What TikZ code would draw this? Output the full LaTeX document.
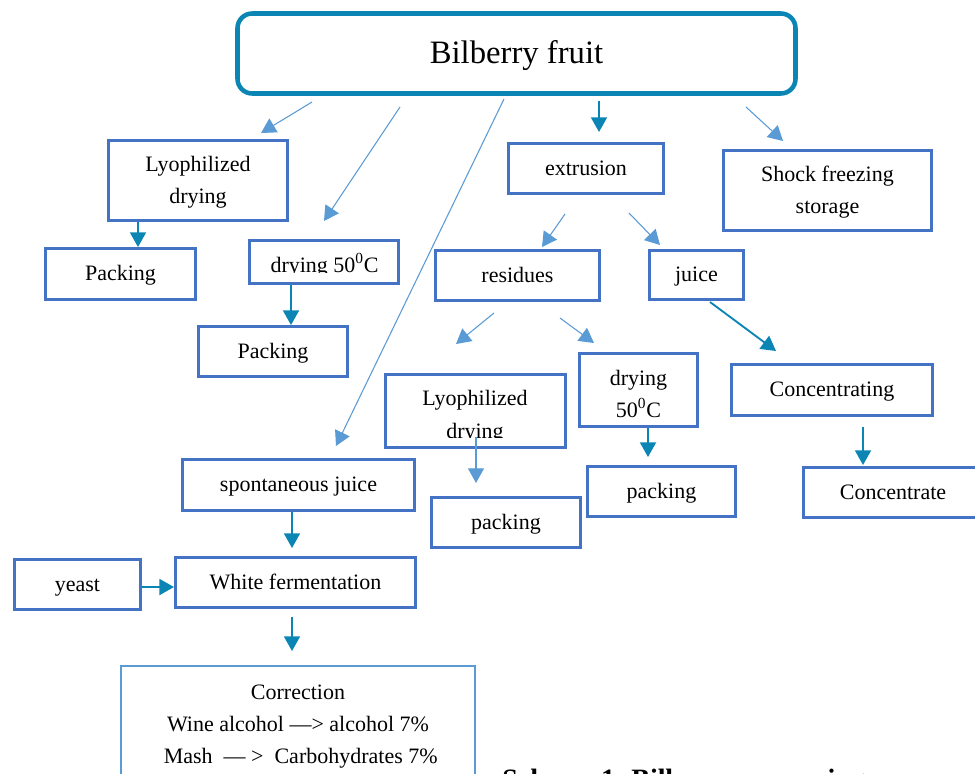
\documentclass[tikz,border=0pt]{standalone}
\usepackage{fontspec}
\setmainfont{Liberation Serif}
\usetikzlibrary{arrows.meta}
\definecolor{boxblue}{HTML}{4472C4}
\definecolor{tealc}{HTML}{0B86B4}
\definecolor{lightblue}{HTML}{5B9BD5}
\newcommand\bodyfont{\fontsize{16.5}{24}\selectfont}
\newcommand\titlefont{\fontsize{24.5}{30}\selectfont}
\newcommand\capfont{\fontsize{21}{25}\selectfont\bfseries}

\begin{document}
\begin{tikzpicture}[x=0.75pt,y=-0.75pt,
  box/.style={draw=boxblue, line width=2.2pt, inner sep=0pt, align=center,
    font=\bodyfont, text height=14pt, text depth=4.1pt},
  % two-line boxes: height measured above the last baseline
  twoline/.style={text height=38pt, text depth=4.1pt},
  sz/.style 2 args={minimum width=#1*0.75pt, minimum height=#2*0.75pt},
  txt/.style={inner sep=0pt, font=\bodyfont},
  lightarrow/.style={draw=lightblue, line width=0.8pt, -{Triangle[length=11pt,width=12pt]}},
  tealarrow/.style={draw=tealc, line width=1.4pt, -{Triangle[length=11pt,width=12pt]}},
]
\useasboundingbox (0,0) rectangle (975,774);
\fill[white] (0,0) rectangle (975,774);

% ---- top node
\node[box, draw=tealc, line width=3.4pt, rounded corners=11pt, sz={558}{80},
  font=\titlefont, text height=20.8pt, text depth=6.1pt] (bil) at (516.5,53.5) {Bilberry fruit};

% ---- left branch
\node[box, twoline, sz={179}{80}] (lyo1) at (198,180.5) {Lyophilized\\drying};
\node[box, sz={150}{51}] (pack1) at (120.5,274) {Packing};
\node[box, sz={149}{43}] (dry1) at (324,262) {};
\begin{scope}
  \clip (246,237) rectangle (402,272.5);
  \node[txt, anchor=base] (dry1t) at (324.5,272) {drying 50\textsuperscript{0}C};
\end{scope}
\node[box, sz={149}{50}] (pack2) at (273,351.5) {Packing};

% ---- extrusion branch
\node[box, sz={155}{50}] (extr) at (586,168.5) {extrusion};
\node[box, twoline, sz={208}{80}] (shock) at (827.5,190.5) {Shock freezing\\storage};
\node[box, sz={164}{50}] (resid) at (517.5,275.5) {residues};
\node[box, sz={94}{49}] (juice) at (696.5,275) {juice};
\node[box, sz={180}{73}] (lyo2) at (475.5,411) {};
\node[txt, anchor=base] (lyo2t) at (475,405.7) {Lyophilized};
\begin{scope}
  \clip (386,380) rectangle (565,437.5);
  \node[txt, anchor=base] (lyo2u) at (475,438.5) {drying};
\end{scope}
\node[box, sz={118}{73}, text height=43.8pt, text depth=3.3pt] (dry2) at (638.5,390) {drying\\50\textsuperscript{0}C};
\node[box, sz={201}{51}] (conc) at (832,390) {Concentrating};
\node[box, sz={149}{50}] (pack3) at (506,522.5) {packing};
\node[box, sz={148}{50}] (pack4) at (661.5,491.5) {packing};
\node[box, sz={179}{50}] (concd) at (893,492.5) {Concentrate};

% ---- juice / fermentation branch
\node[box, sz={232}{51}] (spont) at (298.5,485) {spontaneous juice};
\node[box, sz={126}{50}] (yeast) at (77.5,584.5) {yeast};
\node[box, sz={240}{50}] (wf) at (295.5,582.5) {White fermentation};
\node[box, draw=lightblue, line width=1.6pt, sz={354}{117}, inner ysep=10.75pt,
  text height=62pt, text depth=4.1pt, anchor=north] (corr) at (298,665)
  {Correction\\Wine alcohol —> alcohol 7\%\\\ Mash\ \ — >\ \ Carbohydrates 7\%};

% caption below the scheme
\node[inner sep=0pt, anchor=base west, font=\capfont] (cap) at (502,788) {Scheme 1. Bilberry processing};

% ---- free arrow ends
\coordinate (a1s) at (312,102);  \coordinate (a1e) at (261,133);
\coordinate (a2s) at (400,107);  \coordinate (a2e) at (324,221);
\coordinate (a3s) at (504,99);   \coordinate (a3e) at (336,446);
\coordinate (a4s) at (599,101);  \coordinate (a4e) at (599,132);
\coordinate (a5s) at (746,107);  \coordinate (a5e) at (783,141);
\coordinate (a6s) at (565,214);  \coordinate (a6e) at (542,247);
\coordinate (a7s) at (629,213);  \coordinate (a7e) at (660,245);
\coordinate (a8s) at (494,313);  \coordinate (a8e) at (456,344);
\coordinate (a9s) at (560,318);  \coordinate (a9e) at (594,343);
\coordinate (a10s) at (476,437); \coordinate (a10e) at (476,483);
\coordinate (a13s) at (710,302); \coordinate (a13e) at (776,351);
\coordinate (a14e) at (648,457);
\coordinate (a15s) at (863,427); \coordinate (a15e) at (863,465);
\coordinate (a16e) at (292,548);
\coordinate (a18s) at (292,617); \coordinate (a18e) at (292,651);

% ---- light connectors
\draw[lightarrow] (a1s) -- (a1e);
\draw[lightarrow] (a2s) -- (a2e);
\draw[lightarrow] (a3s) -- (a3e);
\draw[lightarrow] (a5s) -- (a5e);
\draw[lightarrow] (a6s) -- (a6e);
\draw[lightarrow] (a7s) -- (a7e);
\draw[lightarrow] (a8s) -- (a8e);
\draw[lightarrow] (a9s) -- (a9e);
\draw[lightarrow] (a10s) -- (a10e);

% ---- teal connectors
\draw[tealarrow] (a4s) -- (a4e);
\draw[tealarrow] ([xshift=-45pt]lyo1.south) -- ([xshift=-45pt]lyo1.south |- pack1.north);
\draw[tealarrow] ([xshift=-24.75pt]dry1.south) -- ([xshift=-24.75pt]dry1.south |- pack2.north);
\draw[tealarrow] (a13s) -- (a13e);
\draw[tealarrow] (dry2.south -| a14e) -- (a14e);
\draw[tealarrow] (a15s) -- (a15e);
\draw[tealarrow] (spont.south -| a16e) -- (a16e);
\draw[tealarrow] ([yshift=-1.9pt]yeast.east) -- ([yshift=-1.9pt]yeast.east -| wf.west);
\draw[tealarrow] (a18s) -- (a18e);
\end{tikzpicture}
\end{document}
